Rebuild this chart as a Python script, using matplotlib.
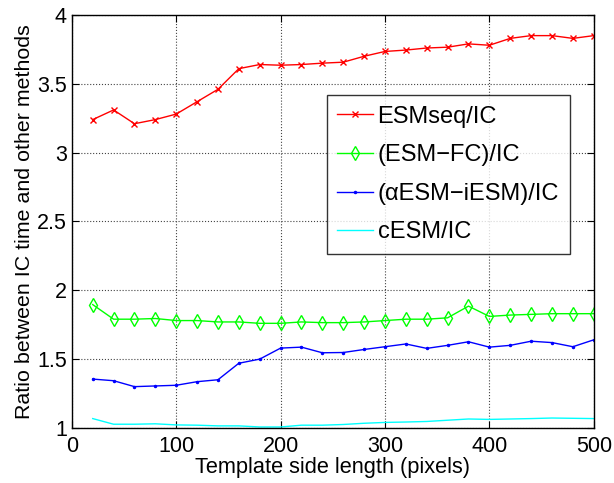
import numpy as np
import matplotlib.pyplot as plt

plt.rcParams['font.family'] = ['Liberation Sans', 'DejaVu Sans']

size = np.arange(20, 501, 20)

esmseq = [3.24, 3.31, 3.21, 3.24, 3.28, 3.37, 3.46, 3.61, 3.64, 3.635, 3.64, 3.65, 3.657,
          3.70, 3.735, 3.745, 3.76, 3.766, 3.79, 3.78, 3.83, 3.85, 3.85, 3.83, 3.85]
esmfc = [1.896, 1.79, 1.79, 1.795, 1.78, 1.78, 1.77, 1.77, 1.76, 1.76, 1.77, 1.765, 1.765,
         1.77, 1.78, 1.79, 1.79, 1.80, 1.885, 1.81, 1.82, 1.825, 1.83, 1.83, 1.83]
aesm = [1.355, 1.343, 1.30, 1.305, 1.31, 1.336, 1.35, 1.47, 1.50, 1.58, 1.587, 1.546, 1.548,
        1.57, 1.59, 1.61, 1.578, 1.60, 1.626, 1.587, 1.60, 1.63, 1.62, 1.59, 1.64]
cesm = [1.068, 1.027, 1.027, 1.03, 1.022, 1.02, 1.015, 1.015, 1.007, 1.007, 1.02, 1.02, 1.025,
        1.034, 1.04, 1.043, 1.047, 1.056, 1.065, 1.062, 1.065, 1.068, 1.072, 1.07, 1.068]

fig = plt.figure(figsize=(6.14, 4.83), dpi=100)
ax = fig.add_axes([0.117, 0.114, 0.85, 0.855])

ax.plot(size, esmseq, color='red', marker='x', markersize=5, lw=1, label='ESMseq/IC')
ax.plot(size, esmfc, color='#00ff00', marker='d', markersize=7, mfc='none', lw=1, label='(ESM\u2212FC)/IC')
ax.plot(size, aesm, color='blue', marker='.', markersize=3, lw=1, label='(\u03b1ESM\u2212iESM)/IC')
ax.plot(size, cesm, color='cyan', lw=1, label='cESM/IC')

ax.set_xlim(0, 500)
ax.set_ylim(1, 4)
ax.set_xticks([0, 100, 200, 300, 400, 500])
ax.set_yticks([1, 1.5, 2, 2.5, 3, 3.5, 4])
ax.set_yticklabels(['1', '1.5', '2', '2.5', '3', '3.5', '4'])
ax.tick_params(direction='in', labelsize=15.5, length=5, top=True, right=True)
ax.tick_params(axis='x', pad=6)
ax.grid(True, linestyle=':', color='#444444', lw=0.8)
for s in ax.spines.values():
    s.set_linewidth(1)

ax.set_xlabel('Template side length (pixels)', fontsize=15.7, labelpad=0)
ax.set_ylabel('Ratio between IC time and other methods', fontsize=15.4, labelpad=2)

leg = ax.legend(loc='upper left', bbox_to_anchor=(0.4885, 0.806), fontsize=17,
                frameon=True, fancybox=False, edgecolor='black', handlelength=1.5,
                labelspacing=0.7, borderpad=0.45, borderaxespad=0, handletextpad=0.2)
leg.get_frame().set_linewidth(1)

fig.savefig('out.png', dpi=100)
